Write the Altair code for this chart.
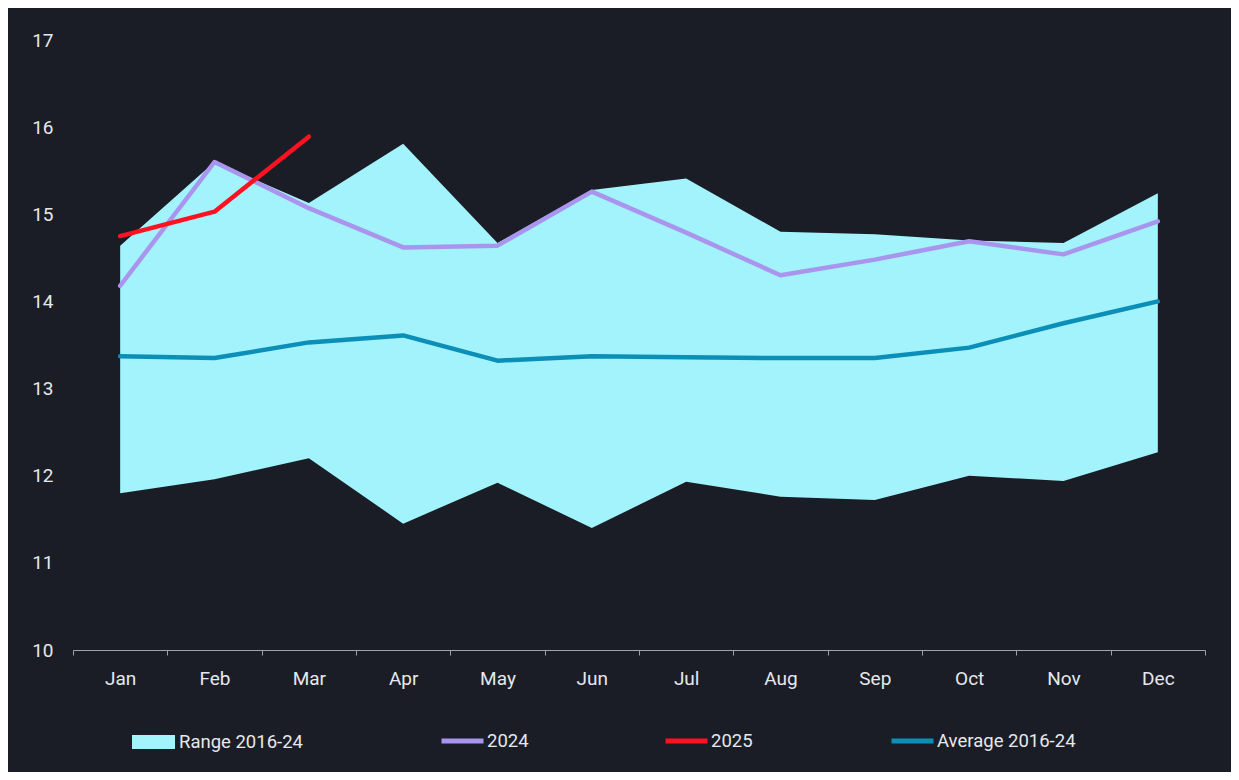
import altair as alt
import pandas as pd

months = ["Jan", "Feb", "Mar", "Apr", "May", "Jun", "Jul", "Aug", "Sep", "Oct", "Nov", "Dec"]
range_lo = [11.80, 11.96, 12.20, 11.45, 11.92, 11.40, 11.93, 11.76, 11.72, 12.00, 11.94, 12.27]
range_hi = [14.64, 15.60, 15.13, 15.81, 14.67, 15.28, 15.41, 14.80, 14.77, 14.70, 14.67, 15.24]
avg_16_24 = [13.37, 13.35, 13.53, 13.61, 13.32, 13.37, 13.36, 13.35, 13.35, 13.47, 13.75, 14.00]
y2024 = [14.18, 15.60, 15.07, 14.62, 14.64, 15.26, 14.79, 14.30, 14.48, 14.69, 14.54, 14.92]
y2025 = [14.75, 15.03, 15.89]

BG = "#1b1d26"
TXT = "#e6e8ec"
AXIS = "#9ea3ab"
FONT = "Roboto"

df_range = pd.DataFrame({"month": months, "lo": range_lo, "hi": range_hi, "series": "Range 2016-24"})
df_2024 = pd.DataFrame({"month": months, "value": y2024, "series": "2024"})
df_2025 = pd.DataFrame({"month": months[:len(y2025)], "value": y2025, "series": "2025"})
df_avg = pd.DataFrame({"month": months, "value": avg_16_24, "series": "Average 2016-24"})

x_enc = alt.X(
    "month:N",
    sort=months,
    bandPosition=0.5,
    scale=alt.Scale(type="band", paddingInner=0, paddingOuter=0),
    axis=alt.Axis(
        title=None, labelAngle=0, tickBand="extent", domainColor=AXIS, tickColor=AXIS,
        tickSize=5, labelPadding=14, labelFontSize=19, labelColor=TXT, labelFont=FONT,
        grid=False,
    ),
)
y_scale = alt.Scale(domain=[10, 17], nice=False, zero=False)
y_axis = alt.Axis(
    title=None, values=list(range(10, 18)), grid=False, domain=False, ticks=False,
    labelPadding=20, labelFontSize=19, labelColor=TXT, labelFont=FONT,
)


def legend(x, y, sym_type, size, stroke_w, offset):
    return alt.Legend(
        orient="none", legendX=x, legendY=y, title=None, padding=0,
        labelFontSize=18.5, labelColor=TXT, labelFont=FONT, labelOffset=offset,
        symbolType=sym_type, symbolSize=size, symbolStrokeWidth=stroke_w,
        symbolOpacity=1,
    )


area = alt.Chart(df_range).mark_area(opacity=1).encode(
    x=x_enc,
    y=alt.Y("lo:Q", scale=y_scale, axis=y_axis),
    y2="hi:Q",
    fill=alt.Fill("series:N", scale=alt.Scale(domain=["Range 2016-24"], range=["#a3f3fc"]),
                  legend=legend(59, 680.5, "M-1,-0.33H1V0.33H-1Z", 43 * 43, 0, 4)),
)


def line(df, name, color, lx):
    return alt.Chart(df).mark_line(strokeWidth=4.5, strokeCap="round", strokeJoin="round").encode(
        x=x_enc,
        y=alt.Y("value:Q", scale=y_scale, axis=y_axis),
        stroke=alt.Stroke("series:N", scale=alt.Scale(domain=[name], range=[color]),
                          legend=legend(lx, 677.5, "stroke", 42 * 42, 5, 1)),
    )


l_avg = line(df_avg, "Average 2016-24", "#0b8fb8", 816)
l_2024 = line(df_2024, "2024", "#a995ee", 366)
l_2025 = line(df_2025, "2025", "#ff1121", 590)

chart = (
    alt.layer(area, l_avg, l_2024, l_2025)
    .resolve_scale(stroke="independent")
    .resolve_legend(stroke="independent")
    .properties(
        width=1132, height=610, background=BG,
        autosize=alt.AutoSizeParams(type="none"),
        padding={"left": 65, "top": 32, "right": 26, "bottom": 122},
    )
    .configure_view(stroke=None)
)

chart.save("out.html", embed_options={"renderer": "svg", "actions": False})
